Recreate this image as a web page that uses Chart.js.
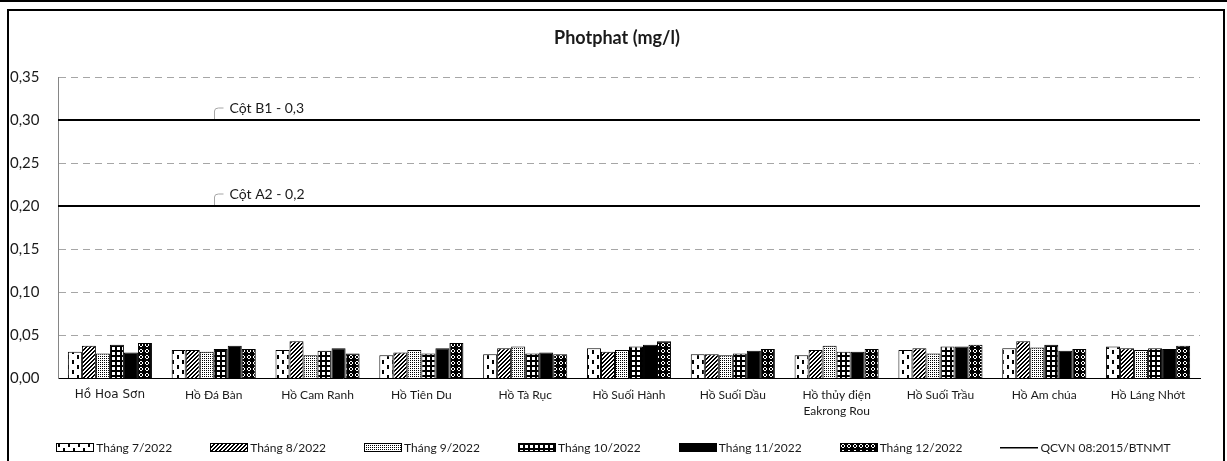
<!DOCTYPE html>
<html>
<head>
<meta charset="utf-8">
<script src="https://cdn.jsdelivr.net/npm/chart.js@4.4.0/dist/chart.umd.min.js"></script>
<style>
  html, body { margin: 0; padding: 0; background: #fff; }
  #wrap { position: relative; width: 1227px; height: 461px; overflow: hidden; }
  #topbar { position: absolute; left: 0; top: 0; width: 1227px; height: 2px; background: #000; }
  #frame { position: absolute; left: 7px; top: 9px; width: 1218px; height: 480px; border: 2px solid #000; box-sizing: border-box; pointer-events: none; }
  #chart { position: absolute; left: 0; top: 0; }
  #title { position: absolute; left: 0; top: 26px; width: 1234px; text-align: center; font: bold 18px Lato; color: #1a1a1a; line-height: 22px; }
  #legend { position: absolute; left: 0; top: 440px; width: 1227px; display: flex; justify-content: center; gap: 38px; font: 12px Lato; color: #1a1a1a; }
  .item { display: flex; align-items: center; white-space: nowrap; }
  .item canvas { margin-right: 2px; }
</style>
</head>
<body>
<div id="wrap">
  <div id="topbar"></div>
  <canvas id="chart" width="1227" height="461"></canvas>
  <div id="title">Photphat (mg/l)</div>
  <div id="legend"></div>
  <div id="frame"></div>
</div>
<script>
const categories = ['Hồ Hoa Sơn', 'Hồ Đá Bàn', 'Hồ Cam Ranh', 'Hồ Tiên Du', 'Hồ Tà Rục', 'Hồ Suối Hành',
  'Hồ Suối Dầu', ['Hồ thủy điện', 'Eakrong Rou'], 'Hồ Suối Trầu', 'Hồ Am chúa', 'Hồ Láng Nhớt'];
const seriesNames = ['Tháng 7/2022', 'Tháng 8/2022', 'Tháng 9/2022', 'Tháng 10/2022', 'Tháng 11/2022', 'Tháng 12/2022'];
const thang7  = [0.031, 0.033, 0.033, 0.027, 0.028, 0.035, 0.028, 0.027, 0.033, 0.035, 0.037];
const thang8  = [0.038, 0.033, 0.043, 0.030, 0.035, 0.031, 0.028, 0.033, 0.035, 0.043, 0.035];
const thang9  = [0.029, 0.031, 0.027, 0.033, 0.037, 0.033, 0.027, 0.038, 0.029, 0.036, 0.033];
const thang10 = [0.039, 0.034, 0.032, 0.029, 0.029, 0.037, 0.029, 0.031, 0.037, 0.039, 0.035];
const thang11 = [0.030, 0.038, 0.035, 0.035, 0.030, 0.039, 0.032, 0.031, 0.037, 0.032, 0.034];
const thang12 = [0.041, 0.034, 0.029, 0.041, 0.028, 0.043, 0.034, 0.034, 0.039, 0.034, 0.038];
const limitName = 'QCVN 08:2015/BTNMT';
const limitValues = [0.3, 0.2];
const limitLabels = ['Cột B1 - 0,3', 'Cột A2 - 0,2'];
const limitLabelAt = 1; // category index where the labels sit
const yTickLabels = ['0,00', '0,05', '0,10', '0,15', '0,20', '0,25', '0,30', '0,35'];

// pattern tiles, pixel by pixel
function tile(w, h, isBlack) {
  const c = document.createElement('canvas');
  c.width = w; c.height = h;
  const g = c.getContext('2d');
  g.fillStyle = '#fff';
  g.fillRect(0, 0, w, h);
  g.fillStyle = '#000';
  for (let x = 0; x < w; x++)
    for (let y = 0; y < h; y++)
      if (isBlack(x, y)) g.fillRect(x, y, 1, 1);
  return c;
}
const tiles = [
  tile(10, 10, (x, y) => (x >= 2 && x < 4 && y < 4) || (x >= 7 && x < 9 && y >= 5 && y < 9)),
  tile(4, 4, (x, y) => (x + y) % 4 < 2),
  tile(2, 2, (x, y) => x === 0 && y === 0),
  tile(5, 5, (x, y) => x % 5 < 2 || y % 5 < 2),
  tile(1, 1, () => true),
  tile(6, 6, (x, y) => Math.abs(Math.abs(x - 2.5) + Math.abs(y - 2.5) - 2) >= 0.6)
];
const ctx = document.getElementById('chart').getContext('2d');
const patterns = tiles.map(t => ctx.createPattern(t, 'repeat'));

function legendIcon(i) {
  const c = document.createElement('canvas');
  c.width = 38; c.height = 9;
  const g = c.getContext('2d');
  if (i < 0) {
    g.fillStyle = '#000';
    g.fillRect(0, 4, 38, 1.5);
  } else {
    g.fillStyle = g.createPattern(tiles[i], 'repeat');
    g.fillRect(0, 0, 38, 9);
    g.strokeStyle = '#000';
    g.lineWidth = 1;
    g.strokeRect(0.5, 0.5, 37, 8);
  }
  return c;
}

const legend = document.getElementById('legend');
seriesNames.concat([limitName]).forEach((name, i) => {
  const it = document.createElement('div');
  it.className = 'item';
  it.appendChild(legendIcon(i < seriesNames.length ? i : -1));
  const s = document.createElement('span');
  s.textContent = name;
  it.appendChild(s);
  legend.appendChild(it);
});

// QCVN limit lines across the plot, with their callout labels
const limitPlugin = {
  id: 'limitLines',
  afterDatasetsDraw(chart) {
    const { ctx, chartArea, scales: { x, y } } = chart;
    const lx = Math.round(x.getPixelForValue(limitLabelAt)) + 0.5;
    limitValues.forEach((v, i) => {
      const py = Math.round(y.getPixelForValue(v));
      ctx.save();
      ctx.strokeStyle = '#000';
      ctx.lineWidth = 2;
      ctx.beginPath();
      ctx.moveTo(chartArea.left, py);
      ctx.lineTo(chartArea.right, py);
      ctx.stroke();

      ctx.strokeStyle = '#a6a6a6';
      ctx.lineWidth = 1;
      ctx.beginPath();
      ctx.moveTo(lx, py - 1);
      ctx.lineTo(lx, py - 9);
      ctx.quadraticCurveTo(lx, py - 12, lx + 4, py - 12);
      ctx.lineTo(lx + 9, py - 12);
      ctx.stroke();
      ctx.font = '14px Lato';
      ctx.fillStyle = '#1a1a1a';
      ctx.textBaseline = 'middle';
      ctx.fillText(limitLabels[i], lx + 15, py - 12);
      ctx.restore();
    });
  }
};

const barData = [thang7, thang8, thang9, thang10, thang11, thang12];
const datasets = barData.map((d, i) => ({
  label: seriesNames[i],
  data: d,
  backgroundColor: patterns[i],
  borderColor: '#000',
  borderWidth: 1,
  barPercentage: 1,
  categoryPercentage: 0.81
}));

new Chart(ctx, {
  type: 'bar',
  data: { labels: categories, datasets: datasets },
  options: {
    responsive: false,
    animation: false,
    layout: { padding: { left: 10, right: 27, top: 77, bottom: 41 } },
    plugins: {
      legend: { display: false },
      tooltip: { enabled: false },
      title: { display: false }
    },
    scales: {
      x: {
        grid: { display: false },
        border: { display: true, color: '#000', width: 1 },
        ticks: {
          color: '#1a1a1a',
          padding: 0,
          maxRotation: 0,
          autoSkip: false,
          font: c => c.index === 0
            ? { family: 'DejaVu Sans', size: 12, lineHeight: 1.4 }
            : { family: 'Lato', size: 12, lineHeight: 1.4 }
        }
      },
      y: {
        min: 0,
        max: 0.35,
        afterFit: s => { s.width = 48; },
        grid: { color: '#a6a6a6', drawTicks: false },
        border: { color: '#868686', width: 1, dash: [7, 5] },
        ticks: {
          stepSize: 0.05,
          crossAlign: 'far',
          color: '#1a1a1a',
          font: { family: 'Lato', size: 15 },
          callback: (v, i) => yTickLabels[i]
        }
      }
    }
  },
  plugins: [limitPlugin]
});
</script>
</body>
</html>
